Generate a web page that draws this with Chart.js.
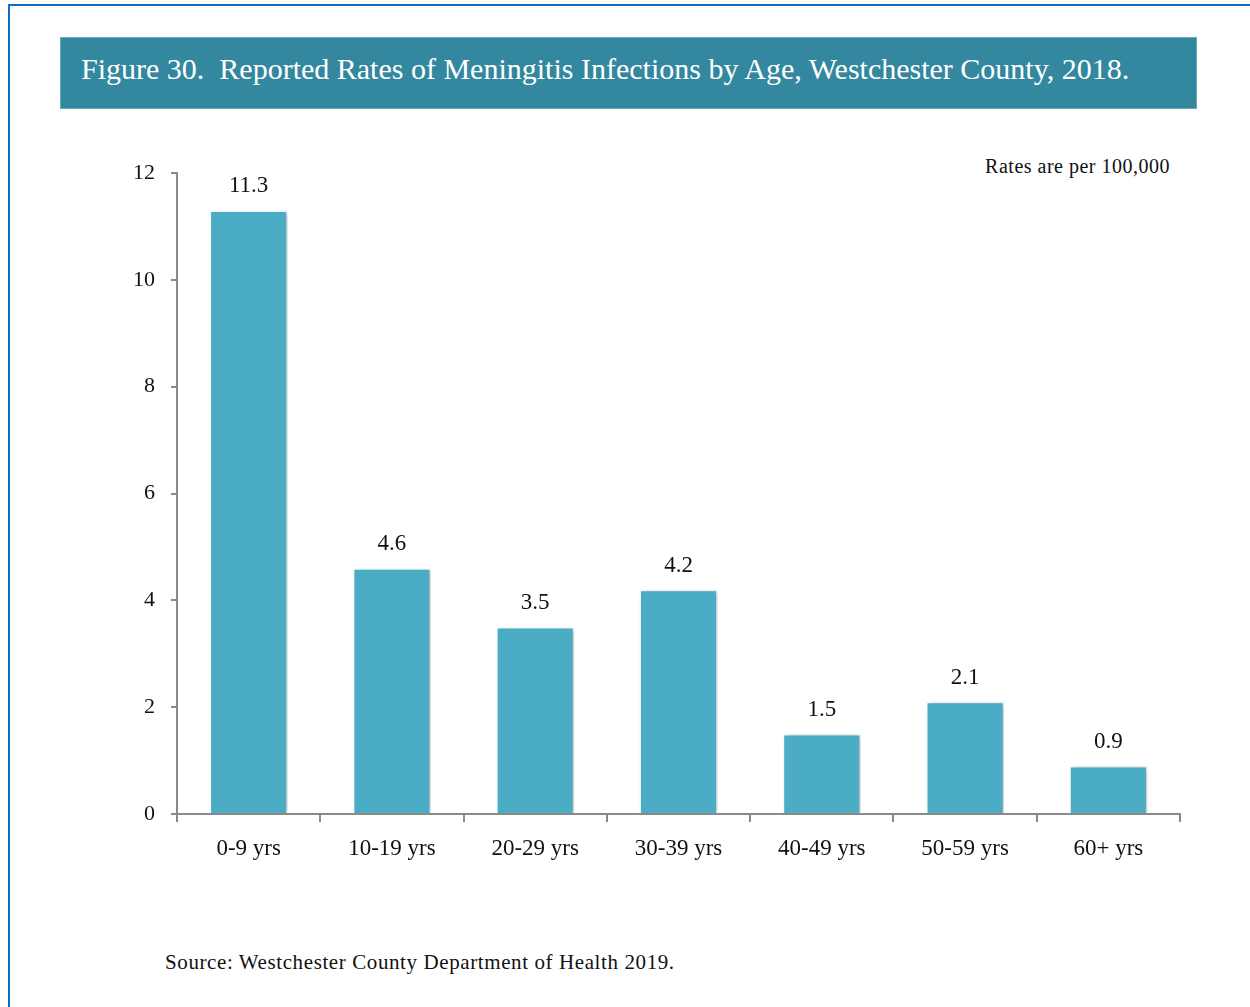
<!DOCTYPE html>
<html>
<head>
<meta charset="utf-8">
<script src="https://cdn.jsdelivr.net/npm/chart.js@4.4.1/dist/chart.umd.min.js"></script>
<style>
    html, body { margin: 0; padding: 0; background: #ffffff; }
    body { width: 1250px; height: 1007px; position: relative; overflow: hidden; font-family: "Liberation Serif", serif; }
    .frame { position: absolute; left: 8px; top: 4px; width: 1300px; height: 1100px; border-left: 2px solid #0f6fbe; border-top: 2px solid #0f6fbe; }
    .banner { position: absolute; left: 60px; top: 37px; width: 1135px; height: 70px; background: #33879e; border: 1px solid #6aaabb; }
    .banner span { position: absolute; left: 20px; top: 14px; color: #ffffff; font-size: 30px; white-space: pre; }
    .note { position: absolute; right: 80px; top: 155px; font-size: 20px; letter-spacing: 0.5px; color: #111; }
    .source { position: absolute; left: 165px; top: 950px; font-size: 21px; letter-spacing: 0.6px; color: #111; }
    #chart { position: absolute; left: 0; top: 0; }
</style>
</head>
<body>
<div class="frame"></div>
<div class="banner"><span>Figure 30.  Reported Rates of Meningitis Infections by Age, Westchester County, 2018.</span></div>
<div class="note">Rates are per 100,000</div>
<div class="source">Source: Westchester County Department of Health 2019.</div>
<canvas id="chart" width="1250" height="1007"></canvas>
<script>
// 연령대별 보고율 (per 100,000)
const ageGroups = ['0-9 yrs', '10-19 yrs', '20-29 yrs', '30-39 yrs', '40-49 yrs', '50-59 yrs', '60+ yrs'];
const rates = [11.3, 4.6, 3.5, 4.2, 1.5, 2.1, 0.9];
const yTicks = [0, 2, 4, 6, 8, 10, 12];

const axisGray = '#8a8a8a';
const barColor = '#4bacc6';
const labelFont = { family: 'Liberation Serif', size: 23 };
const yFont = { family: 'Liberation Serif', size: 22 };

// 막대 그림자
const barShadow = {
    id: 'barShadow',
    beforeDatasetsDraw(chart) {
        const ctx = chart.ctx;
        ctx.save();
        ctx.shadowColor = 'rgba(0, 0, 0, 0.28)';
        ctx.shadowBlur = 5;
        ctx.shadowOffsetX = 2;
        ctx.shadowOffsetY = 1;
    },
    afterDatasetsDraw(chart) {
        chart.ctx.restore();
    }
};

// 막대 위 값 표시
const valueLabels = {
    id: 'valueLabels',
    afterDatasetsDraw(chart) {
        const ctx = chart.ctx;
        const meta = chart.getDatasetMeta(0);
        ctx.save();
        ctx.font = `${labelFont.size}px ${labelFont.family}`;
        ctx.fillStyle = '#111111';
        ctx.textAlign = 'center';
        ctx.textBaseline = 'middle';
        meta.data.forEach((bar, i) => {
            ctx.fillText(rates[i].toFixed(1), bar.x, bar.y - 24);
        });
        ctx.restore();
    }
};

new Chart(document.getElementById('chart'), {
    type: 'bar',
    data: {
        labels: ageGroups,
        datasets: [{
            data: rates,
            backgroundColor: barColor,
            borderColor: '#ffffff',
            borderWidth: 1.5,
            categoryPercentage: 1,
            barPercentage: 0.545
        }]
    },
    options: {
        responsive: false,
        animation: false,
        events: [],
        layout: { padding: { left: 100, top: 173, right: 70, bottom: 133 } },
        plugins: {
            legend: { display: false },
            tooltip: { enabled: false }
        },
        scales: {
            x: {
                grid: {
                    display: true,
                    offset: true,
                    drawOnChartArea: false,
                    color: axisGray,
                    lineWidth: 2,
                    tickLength: 8
                },
                border: { color: axisGray, width: 2 },
                ticks: { color: '#111111', font: labelFont, padding: 13 },
                afterFit(scale) { scale.height = 60; }
            },
            y: {
                min: 0,
                max: 12,
                afterBuildTicks(scale) { scale.ticks = yTicks.map(v => ({ value: v })); },
                grid: {
                    display: true,
                    drawOnChartArea: false,
                    color: axisGray,
                    lineWidth: 2,
                    tickLength: 6
                },
                border: { color: axisGray, width: 2 },
                ticks: { color: '#111111', font: yFont, padding: 16 },
                afterFit(scale) { scale.width = 77; }
            }
        }
    },
    plugins: [barShadow, valueLabels]
});
</script>
</body>
</html>
